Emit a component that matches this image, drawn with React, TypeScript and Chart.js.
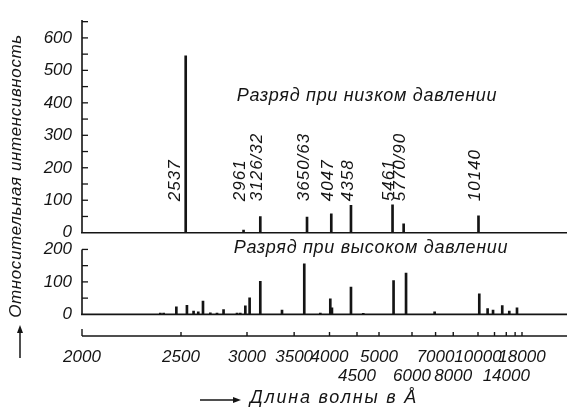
import React, { useEffect, useRef } from 'react';
import { Chart, registerables } from 'chart.js';

Chart.register(...registerables);

// ---- data (wavelengths in Å, relative intensity) ----
const lowLines = [2530, 2969, 3126, 3667, 4029, 4380, 5367, 5711, 10050];
const lowIntensity = [545, 8, 50, 48, 58, 84, 86, 27, 52];
const lowLabels = ['2537', '2961', '3126/32', '3650/63', '4047', '4358', '5461', '5770/90', '10140'];

const highLines = [2376, 2395, 2471, 2538, 2582, 2614, 2647, 2700, 2750, 2801, 2912, 2940, 2985, 3024, 3126, 3356, 3630, 3857, 4013, 4040, 4380, 4632, 5397, 5791, 6954, 10132, 11074, 11792, 13245, 14620, 16500];
const highIntensity = [4, 4, 23, 28, 10, 8, 41, 5, 4, 15, 4, 4, 26, 51, 102, 13, 156, 4, 48, 20, 84, 3, 104, 127, 8, 63, 18, 13, 27, 10, 20];

const xTickWavelengths = [2000, 2500, 3000, 3500, 4000, 4500, 5000, 6000, 7000, 8000, 10000, 12000, 14000, 16000, 18000];
const xTickLabels = ['2000', '2500', '3000', '3500', '4000', '4500', '5000', '6000', '7000', '8000', '10000', '', '14000', '', '18000'];
const xTickRow = [0, 0, 0, 0, 0, 1, 0, 1, 0, 1, 0, 0, 1, 0, 0];

const lowTickValues = [0, 100, 200, 300, 400, 500, 600];
const highTickValues = [0, 100, 200];
const lowMinorTicks = [50, 100, 150, 200, 250, 300, 350, 400, 450, 500, 550, 600, 650];
const highMinorTicks = [50, 100, 150, 200];

const lowTitle = 'Разряд при низком давлении';
const highTitle = 'Разряд при высоком давлении';
const yTitle = 'Относительная интенсивность';
const xTitle = 'Длина волны в Å';

// ---- layout constants ----
const W = 568;
const H = 411;
const PX_PER_UNIT = 0.33;
const AREA_TOP = 15;
const AREA_BOTTOM = 336;
const HIGH_ZERO_PX = 314;
const LOW_ZERO_PX = 231;
const Y_MIN = -(AREA_BOTTOM - HIGH_ZERO_PX) / PX_PER_UNIT;
const Y_MAX = Y_MIN + (AREA_BOTTOM - AREA_TOP) / PX_PER_UNIT;
const LOW_OFFSET = (HIGH_ZERO_PX - LOW_ZERO_PX) / PX_PER_UNIT;
const LOW_AXIS_TOP = 655;
const LABEL_BASE = 97;
const X_MAX = 1e8 / 2000;
const X_MIN = 1010;
const INK = '#141414';
const FAMILY = "'Liberation Sans', Arial, sans-serif";

const toWn = (lambda: number) => 1e8 / lambda;

function setFont(ctx: any, size: number, spacing = 1) {
  ctx.font = `italic ${size}px ${FAMILY}`;
  ctx.letterSpacing = `${spacing}px`;
}

function seg(ctx: CanvasRenderingContext2D, x1: number, y1: number, x2: number, y2: number) {
  ctx.beginPath();
  ctx.moveTo(x1, y1);
  ctx.lineTo(x2, y2);
  ctx.stroke();
}

function arrowHead(ctx: CanvasRenderingContext2D, x: number, y: number, angle: number) {
  ctx.save();
  ctx.translate(x, y);
  ctx.rotate(angle);
  ctx.beginPath();
  ctx.moveTo(0, 0);
  ctx.lineTo(-8, -3);
  ctx.lineTo(-8, 3);
  ctx.closePath();
  ctx.fill();
  ctx.restore();
}

const overlay = {
  id: 'overlay',
  afterDraw(chart: any) {
    const ctx: CanvasRenderingContext2D = chart.ctx;
    const xs = chart.scales.x;
    const ys = chart.scales.y;
    const { left, right, bottom } = chart.chartArea;
    const yl = (v: number) => ys.getPixelForValue(v + LOW_OFFSET);
    const yh = (v: number) => ys.getPixelForValue(v);
    ctx.save();
    ctx.strokeStyle = INK;
    ctx.fillStyle = INK;
    ctx.lineWidth = 1.6;
    ctx.lineCap = 'butt';

    // low pressure panel axes
    seg(ctx, left, yl(LOW_AXIS_TOP), left, yl(0));
    seg(ctx, left - 1, yl(0), right, yl(0));
    ctx.lineWidth = 1.3;
    lowMinorTicks.forEach((v) => seg(ctx, left, yl(v), left + 6, yl(v)));

    // high pressure panel axes
    ctx.lineWidth = 1.6;
    seg(ctx, left, yh(200), left, yh(0));
    seg(ctx, left - 1, yh(0), right, yh(0));
    ctx.lineWidth = 1.3;
    highMinorTicks.forEach((v) => seg(ctx, left, yh(v), left + 6, yh(v)));

    // wavelength axis
    ctx.lineWidth = 1.4;
    seg(ctx, left, bottom, right, bottom);
    xTickWavelengths.forEach((w, i) => {
      const px = xs.getPixelForValue(toWn(w));
      seg(ctx, px, bottom, px, bottom - (i === 0 ? 7 : 4));
    });

    // line labels (rotated)
    setFont(ctx, 17, 1);
    ctx.textAlign = 'left';
    ctx.textBaseline = 'middle';
    lowLines.forEach((w, i) => {
      const px = xs.getPixelForValue(toWn(w)) - (lowIntensity[i] > LABEL_BASE ? 10 : 3);
      ctx.save();
      ctx.translate(px, yl(LABEL_BASE));
      ctx.rotate(-Math.PI / 2);
      ctx.fillText(lowLabels[i], 0, 0);
      ctx.restore();
    });

    // panel titles
    setFont(ctx, 18, 0.7);
    ctx.textAlign = 'center';
    ctx.fillText(lowTitle, 367, 96);
    ctx.fillText(highTitle, 371, 248);

    // y title with arrow
    ctx.save();
    ctx.translate(16, 176);
    ctx.rotate(-Math.PI / 2);
    setFont(ctx, 17, 0.6);
    ctx.fillText(yTitle, 0, 0);
    ctx.restore();
    ctx.lineWidth = 1.5;
    seg(ctx, 20, 358, 20, 331);
    arrowHead(ctx, 20, 325, -Math.PI / 2);

    // x title with arrow
    setFont(ctx, 18, 1.8);
    ctx.textAlign = 'left';
    ctx.fillText(xTitle, 250, 398);
    seg(ctx, 200, 400, 234, 400);
    arrowHead(ctx, 241, 400, 0);

    ctx.restore();
  },
};

export default function App() {
  const ref = useRef<HTMLCanvasElement | null>(null);

  useEffect(() => {
    if (!ref.current) return;
    const lowData = lowLines.map((w, i) => ({ x: toWn(w), y: [LOW_OFFSET, LOW_OFFSET + lowIntensity[i]] }));
    const highData = highLines.map((w, i) => ({ x: toWn(w), y: [0, highIntensity[i]] }));
    const yTickPositions = [...highTickValues, ...lowTickValues.map((v) => v + LOW_OFFSET)];
    const yTickText = [...highTickValues, ...lowTickValues].map(String);

    const chart = new Chart(ref.current, {
      type: 'bar',
      data: {
        datasets: [
          { label: 'low', data: lowData as any, backgroundColor: INK, borderWidth: 0, barThickness: 2, grouped: false } as any,
          { label: 'high', data: highData as any, backgroundColor: INK, borderWidth: 0, barThickness: 2, grouped: false } as any,
        ],
      },
      options: {
        responsive: false,
        animation: false,
        layout: { padding: { top: AREA_TOP, right: 1, left: 0, bottom: 0 } },
        plugins: { legend: { display: false }, tooltip: { enabled: false }, title: { display: false } },
        scales: {
          x: {
            type: 'linear',
            reverse: true,
            offset: false,
            min: X_MIN,
            max: X_MAX,
            grid: { display: false, drawTicks: false },
            border: { display: false },
            afterBuildTicks: (scale: any) => {
              scale.ticks = xTickWavelengths.map((w) => ({ value: toWn(w) }));
            },
            afterFit: (scale: any) => {
              scale.height = H - AREA_BOTTOM;
            },
            ticks: {
              autoSkip: false,
              maxRotation: 0,
              minRotation: 0,
              padding: 12,
              color: INK,
              font: { family: FAMILY, size: 17, style: 'italic', lineHeight: 1.1 },
              callback: (_v: any, i: number) => (xTickRow[i] ? ['', xTickLabels[i]] : xTickLabels[i]),
            },
          },
          y: {
            type: 'linear',
            min: Y_MIN,
            max: Y_MAX,
            grid: { display: false, drawTicks: false },
            border: { display: false },
            afterBuildTicks: (scale: any) => {
              scale.ticks = yTickPositions.map((v) => ({ value: v }));
            },
            afterFit: (scale: any) => {
              scale.width = 82;
            },
            ticks: {
              autoSkip: false,
              padding: 10,
              color: INK,
              font: { family: FAMILY, size: 17, style: 'italic' },
              callback: (_v: any, i: number) => yTickText[i],
            },
          },
        },
      } as any,
      plugins: [overlay],
    });
    return () => chart.destroy();
  }, []);

  return (
    <div style={{ position: 'fixed', left: 0, top: 0, width: W, height: H, background: '#fff' }}>
      <canvas ref={ref} width={W} height={H} style={{ width: W, height: H, display: 'block' }} />
    </div>
  );
}
